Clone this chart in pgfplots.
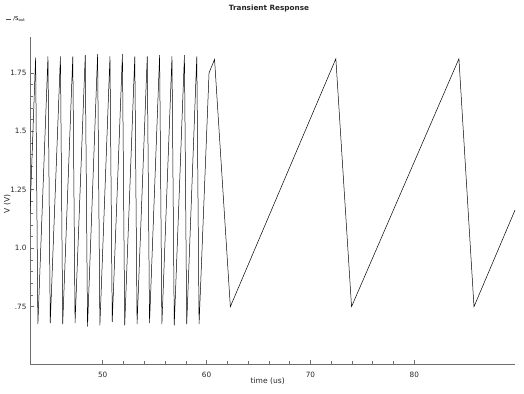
\documentclass[border=0pt]{standalone}
\usepackage{pgfplots}
\pgfplotsset{compat=1.18}
\usepackage{fontspec}
\setmainfont{DejaVu Sans}
\definecolor{axgray}{RGB}{110,110,110}
\begin{document}
\begin{tikzpicture}
\path[use as bounding box] (-30bp,-30bp) rectangle (494bp,364bp);
\begin{axis}[
  at={(0,0)}, anchor=south west,
  scale only axis, width=485bp, height=327bp,
  xmin=43, xmax=89.7, ymin=0.505, ymax=1.903,
  axis lines=left,
  axis line style={-, draw=axgray, line width=0.6pt},
  tick align=inside,
  tick style={axgray, line width=0.5pt},
  major tick length=4bp, minor tick length=2.5bp,
  xtick={50,60,70,80},
  minor x tick num=4,
  ytick={0.75,1,1.25,1.5,1.75},
  yticklabels={.75,1.0,1.25,1.5,1.75},
  minor y tick num=4,
  /pgf/number format/assume math mode=true,
  ticklabel style={font=\fontsize{7.3}{8}\selectfont, text=black!85},
  xticklabel style={yshift=-5bp},
  xlabel={time (us)}, ylabel={V (V)},
  label style={font=\fontsize{7.6}{8}\selectfont, text=black!85},
  xlabel style={at={(axis description cs:0.49,-0.052)}, anchor=center},
  ylabel style={at={(axis description cs:-0.047,0.49)}, anchor=center},
  legend style={at={(axis description cs:-0.05,1.055)}, anchor=west, draw=none, fill=none,
    font=\fontsize{5.5}{6}\selectfont, inner sep=0pt},
  legend image code/.code={\draw[black!70,line width=0.4pt](0bp,0bp)--(5bp,0bp);},
]
\addplot[black, line width=0.5pt] coordinates {
(43,1.15)
(43.54,1.815)(43.76,0.675)
(44.73,1.82)(44.95,0.68)
(45.93,1.82)(46.15,0.675)
(47.12,1.82)(47.34,0.68)
(48.32,1.825)(48.54,0.665)
(49.51,1.83)(49.73,0.67)
(50.70,1.82)(50.92,0.685)
(51.90,1.83)(52.12,0.67)
(53.09,1.82)(53.31,0.675)
(54.29,1.82)(54.51,0.68)
(55.48,1.825)(55.70,0.675)
(56.67,1.82)(56.89,0.67)
(57.87,1.825)(58.09,0.675)
(59.06,1.82)(59.28,0.675)
(60.24,1.75)(60.77,1.807)(62.29,0.75)
(72.45,1.81)(73.96,0.75)
(84.30,1.81)(85.75,0.75)
(89.7,1.163)
};
\addlegendentry{/S\textsubscript{out}}
\end{axis}
\node[font=\fontsize{7.3}{8}\selectfont\bfseries, text=black!85] at (239bp,356bp) {Transient Response};
\end{tikzpicture}
\end{document}
